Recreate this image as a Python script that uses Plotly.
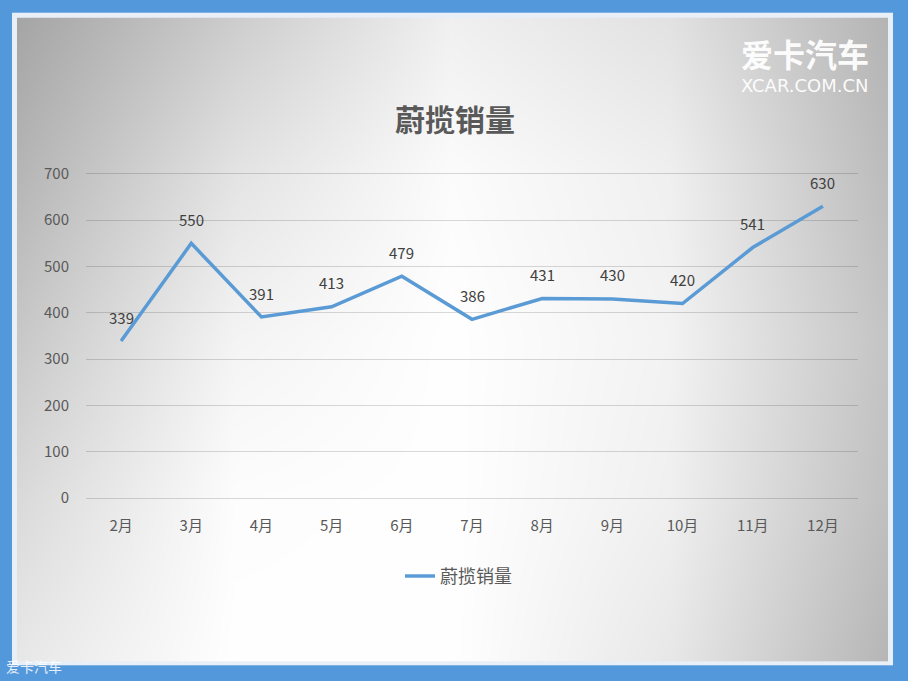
import base64, struct, zlib
import numpy as np
import plotly.graph_objects as go

# ---------------- data ----------------
months = ["2月", "3月", "4月", "5月", "6月", "7月", "8月", "9月", "10月", "11月", "12月"]
sales = [339, 550, 391, 413, 479, 386, 431, 430, 420, 541, 630]
y_ticks = [0, 100, 200, 300, 400, 500, 600, 700]
series_name = "蔚揽销量"
chart_title = "蔚揽销量"

# ---------------- geometry (pixels) ----------------
W, H = 908, 681
Y_PAD = 4  # axis units beyond 0..700 so edge gridlines are kept
PX_PER_UNIT = 324 / 700
PL, PR = 86, 858
PT, PB = 174 - Y_PAD * PX_PER_UNIT, 498 + Y_PAD * PX_PER_UNIT


def px_to_paper_x(px):
    return (px - PL) / (PR - PL)


def px_to_paper_y(py):
    return (PB - py) / (PB - PT)


# ---------------- background image (frame + gradient) ----------------
def make_png(arr):
    h, w, _ = arr.shape
    raw = b"".join(b"\x00" + arr[i].tobytes() for i in range(h))

    def chunk(tag, data):
        c = struct.pack(">I", len(data)) + tag + data
        return c + struct.pack(">I", zlib.crc32(tag + data) & 0xFFFFFFFF)

    png = b"\x89PNG\r\n\x1a\n"
    png += chunk(b"IHDR", struct.pack(">IIBBBBB", w, h, 8, 2, 0, 0, 0))
    png += chunk(b"IDAT", zlib.compress(raw, 9))
    png += chunk(b"IEND", b"")
    return "data:image/png;base64," + base64.b64encode(png).decode()


ox0, oy0, ox1, oy1 = 12, 13, 893, 665   # light border outer box
ix0, iy0, ix1, iy1 = 17, 18, 888, 661   # gradient panel
gw, gh = ox1 - ox0, oy1 - oy0
img = np.zeros((gh, gw, 3), dtype=np.float64)
img[:, :] = np.array([233, 239, 247])

gx = np.array([17, 235, 452, 670, 888], dtype=float)
gy = np.array([18, 178, 339, 500, 660], dtype=float)
gv = np.array([
    [165, 205, 240, 226, 180],
    [182, 228, 252, 240, 188],
    [200, 244, 255, 243, 196],
    [218, 253, 255, 240, 192],
    [232, 255, 255, 232, 182],
], dtype=float)
xs = np.arange(ix0, ix1) + 0.5
ys = np.arange(iy0, iy1) + 0.5
rows = np.array([np.interp(xs, gx, gv[r]) for r in range(len(gy))])
shade = np.array([np.interp(ys, gy, rows[:, c]) for c in range(len(xs))]).T
img[iy0 - oy0:iy1 - oy0, ix0 - ox0:ix1 - ox0, :] = shade[:, :, None]
bg_src = make_png(np.clip(img, 0, 255).astype(np.uint8))

# ---------------- figure ----------------
fig = go.Figure()
fig.add_trace(go.Scatter(
    x=months, y=sales, mode="lines", name=series_name,
    line=dict(color="#5b9bd5", width=3.5),
    hoverinfo="skip",
))

for m, v in zip(months, sales):
    fig.add_annotation(x=m, y=v, text=str(v), showarrow=False, yshift=24,
                       font=dict(size=15, color="#404040",
                                 family="Noto Sans CJK SC, Noto Sans, sans-serif"))

fig.add_layout_image(dict(
    source=bg_src, xref="paper", yref="paper",
    x=px_to_paper_x(ox0), y=px_to_paper_y(oy0),
    sizex=gw / (PR - PL), sizey=gh / (PB - PT),
    xanchor="left", yanchor="top", sizing="stretch", layer="below",
))

# title
fig.add_annotation(xref="paper", yref="paper", x=px_to_paper_x(455), y=px_to_paper_y(118),
                   text="<b>" + chart_title + "</b>", showarrow=False,
                   xanchor="center", yanchor="middle",
                   font=dict(size=30, color="#595959", family="Noto Sans CJK SC"))
# watermark
fig.add_annotation(xref="paper", yref="paper", x=px_to_paper_x(871), y=px_to_paper_y(53),
                   text="<b>爱卡汽车</b>", showarrow=False, xanchor="right", yanchor="middle",
                   font=dict(size=32, color="rgba(255,255,255,0.95)", family="Noto Sans CJK SC"))
fig.add_annotation(xref="paper", yref="paper", x=px_to_paper_x(871), y=px_to_paper_y(86),
                   text="XCAR.COM.CN", showarrow=False, xanchor="right", yanchor="middle",
                   font=dict(size=18, color="rgba(255,255,255,0.95)", family="DejaVu Sans"))
fig.add_annotation(xref="paper", yref="paper", x=px_to_paper_x(4), y=px_to_paper_y(666),
                   text="爱卡汽车", showarrow=False, xanchor="left", yanchor="middle",
                   font=dict(size=14, color="rgba(255,255,255,0.85)", family="Noto Sans CJK SC"))

fig.update_layout(
    width=W, height=H,
    margin=dict(l=PL, r=W - PR, t=PT, b=H - PB, pad=0),
    paper_bgcolor="#5498dc",
    plot_bgcolor="rgba(0,0,0,0)",
    showlegend=True,
    legend=dict(orientation="h", x=px_to_paper_x(400), xanchor="left",
                y=px_to_paper_y(576), yanchor="middle",
                bgcolor="rgba(0,0,0,0)",
                font=dict(size=18, color="#595959", family="Noto Sans CJK SC")),
    xaxis=dict(type="category", range=[-0.5, len(months) - 0.5],
               showgrid=False, zeroline=False, showline=False, ticks="",
               ticklabelstandoff=15,
               tickfont=dict(size=15, color="#595959", family="Noto Sans CJK SC")),
    yaxis=dict(range=[-Y_PAD, 700 + Y_PAD], tickvals=y_ticks, showgrid=True,
               gridcolor="rgba(0,0,0,0.15)", gridwidth=1,
               zeroline=False, showline=False, ticks="", ticklabelstandoff=16,
               tickfont=dict(size=15, color="#595959", family="Noto Sans CJK SC")),
)

fig.write_html("out.html", config={"displayModeBar": False},
               post_script="document.body.style.margin='0';document.body.style.overflow='hidden';")
